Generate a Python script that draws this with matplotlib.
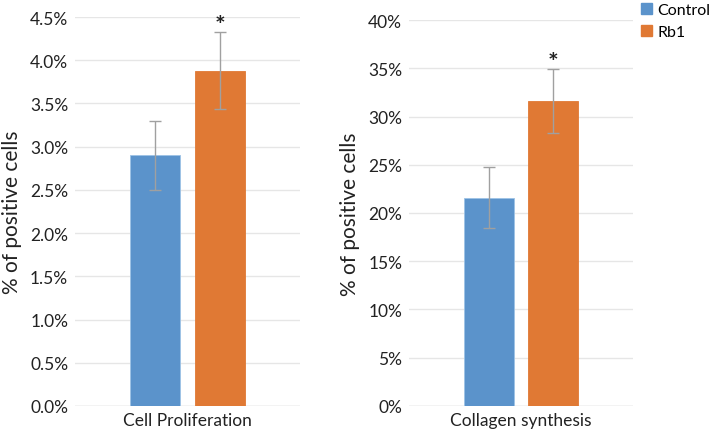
import matplotlib.pyplot as plt
from matplotlib.patches import Patch
from matplotlib.ticker import FuncFormatter

plt.rcParams['font.family'] = ['Lato', 'DejaVu Sans']

groups = ['Control', 'Rb1']
colors = ['#5B93CB', '#E07934']

prolif_vals = [2.9, 3.88]
prolif_err = [0.4, 0.445]
collagen_vals = [21.6, 31.6]
collagen_err = [3.2, 3.3]

offsets = [-0.143, 0.143]
width = 0.222

fig = plt.figure(figsize=(7.09, 4.35), dpi=100)
ax1 = fig.add_axes([0.106, 0.0644, 0.317, 0.8942])
ax2 = fig.add_axes([0.577, 0.0644, 0.316, 0.8873])


def draw(ax, vals, errs, ymax, step, fmt, label):
    for i in range(2):
        ax.bar(offsets[i], vals[i], width, color=colors[i], edgecolor='#9DC3E6' if i == 0 else colors[i],
               linewidth=0.6, zorder=2)
        ax.errorbar(offsets[i], vals[i], yerr=errs[i], color='#A0A0A0', capsize=4,
                    elinewidth=1, capthick=1, zorder=3)
    # significance star over Rb1
    ax.text(offsets[1], vals[1] + errs[1] + ymax * 0.018, '*', ha='center', va='center',
            fontsize=18, fontweight='bold', color='#222222')
    ax.set_xlim(-0.5, 0.5)
    ax.set_ylim(0, ymax)
    ax.set_yticks([step * k for k in range(int(round(ymax / step)) + 1)])
    ax.yaxis.set_major_formatter(FuncFormatter(fmt))
    ax.set_xticks([0])
    ax.set_xticklabels([label], fontsize=12.5, color='#222222')
    ax.tick_params(axis='x', length=0, pad=4)
    ax.tick_params(axis='y', length=0, labelsize=12.5, colors='#222222', pad=5)
    ax.grid(axis='y', color='#E6E6E6', linewidth=1, zorder=0)
    ax.set_axisbelow(True)
    for s in ax.spines.values():
        s.set_visible(False)
    ax.axhline(0, color='#D9D9D9', linewidth=1, zorder=1)
    ax.set_ylabel('% of positive cells', fontsize=15, color='#222222', labelpad=6)


draw(ax1, prolif_vals, prolif_err, 4.5, 0.5, lambda v, p: f'{v:.1f}%', 'Cell Proliferation')
draw(ax2, collagen_vals, collagen_err, 40, 5, lambda v, p: f'{v:.0f}%', 'Collagen synthesis')

handles = [Patch(facecolor=c, edgecolor=c) for c in colors]
fig.legend(handles, groups, loc='upper left', bbox_to_anchor=(0.893, 1.01), frameon=False,
           fontsize=11.5, handlelength=0.7, handleheight=0.7, handletextpad=0.3,
           labelspacing=0.5, borderaxespad=0.1)

fig.savefig('out.png', dpi=100)
